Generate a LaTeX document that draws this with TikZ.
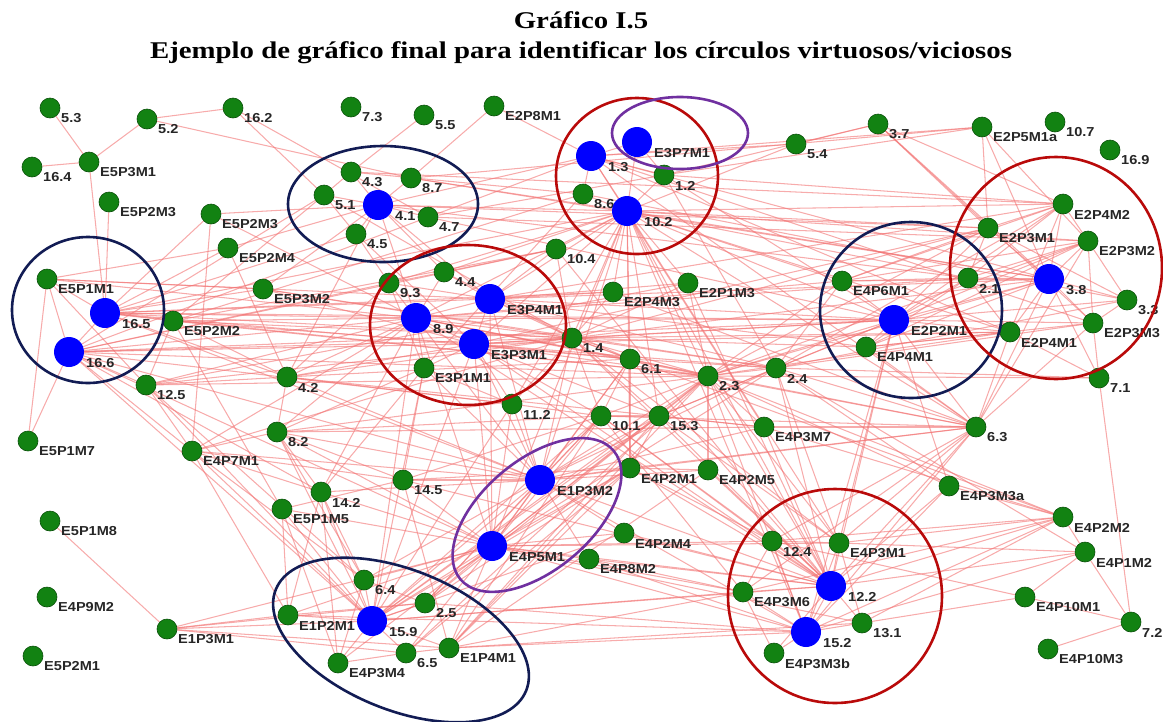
\documentclass[tikz,border=0pt]{standalone}
\usepackage{fontspec}
\setmainfont{Liberation Serif}
\newfontfamily\titfont[FakeStretch=1.2]{Liberation Serif}
\newfontfamily\labfont[FakeStretch=1.12]{Liberation Sans}
\pgfdeclarelayer{bg}
\pgfsetlayers{bg,main}
\definecolor{gfill}{RGB}{18,130,18}
\definecolor{gdraw}{RGB}{10,80,10}
\definecolor{bfill}{RGB}{0,0,255}
\definecolor{navy}{RGB}{18,28,84}
\definecolor{dred}{RGB}{185,10,10}
\definecolor{purp}{RGB}{112,48,160}
\definecolor{edgec}{RGB}{242,115,115}
\tikzset{
  gnode/.style={circle, fill=gfill, draw=gdraw, line width=0.6pt, minimum size=20pt, inner sep=0pt},
  bnode/.style={circle, fill=bfill, minimum size=30pt, inner sep=0pt},
  lab/.style={anchor=west, inner sep=0pt, font=\labfont\bfseries\fontsize{13}{13}\selectfont, text=black!85},
  edge/.style={draw=edgec, opacity=0.6, line width=1.05pt},
  ring/.style={line width=2.6pt},
  ttl/.style={font=\titfont\bfseries\fontsize{24}{26}\selectfont, inner sep=0pt}
}
\newcommand\G[4]{\node[gnode] (#1) at (#2,#3) {}; \node[lab] (#1-l) at (#2+11,#3+10.5) {#4};}
\newcommand\B[4]{\node[bnode] (#1) at (#2,#3) {}; \node[lab] (#1-l) at (#2+17,#3+11) {#4};}
\newcommand\fan[2]{\foreach \t in {#2} {\draw[edge] (#1) -- (\t);}}
\begin{document}
\begin{tikzpicture}[x=1pt,y=-1pt]
\useasboundingbox (0,0) rectangle (1163,721);
\node[ttl] (t1) at (581,20) {Gráfico I.5};
\node[ttl] (t2) at (581,53) {Ejemplo de gráfico final para identificar los círculos virtuosos/viciosos};
% nodes
\G{n5-3}{50}{108}{5.3}
\G{n5-2}{147}{119}{5.2}
\G{n16-2}{233}{108}{16.2}
\G{n16-4}{32}{167}{16.4}
\G{E5P3M1}{89}{162}{E5P3M1}
\G{E5P2M3}{109}{202}{E5P2M3}
\G{E5P2M3b}{211}{214}{E5P2M3}
\G{E5P2M4}{228}{248}{E5P2M4}
\G{E5P1M1}{47}{279}{E5P1M1}
\G{E5P3M2}{263}{289}{E5P3M2}
\G{n7-3}{351}{107}{7.3}
\G{n5-5}{424}{115}{5.5}
\G{E2P8M1}{494}{106}{E2P8M1}
\G{n4-3}{351}{172}{4.3}
\G{n8-7}{411}{178}{8.7}
\G{n5-1}{324}{195}{5.1}
\B{n4-1}{378}{205}{4.1}
\G{n4-7}{428}{217}{4.7}
\G{n4-5}{356}{234}{4.5}
\G{n10-4}{556}{249}{10.4}
\G{n4-4}{444}{272}{4.4}
\G{n9-3}{389}{283}{9.3}
\B{E3P4M1}{490}{299}{E3P4M1}
\B{n1-3}{591}{156}{1.3}
\B{E3P7M1}{637}{142}{E3P7M1}
\G{n1-2}{664}{175}{1.2}
\G{n8-6}{583}{194}{8.6}
\B{n10-2}{627}{211}{10.2}
\G{n5-4}{796}{144}{5.4}
\G{E2P4M3}{613}{292}{E2P4M3}
\G{E2P1M3}{688}{283}{E2P1M3}
\G{E4P6M1}{842}{281}{E4P6M1}
\G{n3-7}{878}{124}{3.7}
\G{E2P5M1a}{982}{127}{E2P5M1a}
\G{n10-7}{1055}{122}{10.7}
\G{n16-9}{1110}{150}{16.9}
\G{E2P4M2}{1063}{204}{E2P4M2}
\G{E2P3M1}{988}{228}{E2P3M1}
\G{E2P3M2}{1088}{241}{E2P3M2}
\G{n2-1}{968}{278}{2.1}
\B{n3-8}{1049}{279}{3.8}
\G{n3-3}{1127}{300}{3.3}
\B{n16-5}{105}{313}{16.5}
\G{E5P2M2}{173}{321}{E5P2M2}
\B{n16-6}{69}{352}{16.6}
\G{n12-5}{146}{385}{12.5}
\G{n4-2}{287}{377}{4.2}
\G{E5P1M7}{28}{441}{E5P1M7}
\G{E4P7M1}{192}{451}{E4P7M1}
\G{n8-2}{277}{432}{8.2}
\G{E5P1M5}{282}{509}{E5P1M5}
\B{n8-9}{416}{318}{8.9}
\B{E3P3M1}{474}{344}{E3P3M1}
\G{E3P1M1}{424}{368}{E3P1M1}
\G{n1-4}{572}{338}{1.4}
\G{n11-2}{512}{404}{11.2}
\G{n14-5}{403}{480}{14.5}
\G{n14-2}{321}{492}{14.2}
\B{E1P3M2}{540}{480}{E1P3M2}
\G{n6-1}{630}{359}{6.1}
\G{n2-3}{708}{376}{2.3}
\G{n2-4}{776}{368}{2.4}
\G{n10-1}{601}{416}{10.1}
\G{n15-3}{659}{416}{15.3}
\G{E4P3M7}{764}{427}{E4P3M7}
\G{E4P2M1}{630}{468}{E4P2M1}
\G{E4P2M5}{708}{470}{E4P2M5}
\G{E4P4M1}{866}{347}{E4P4M1}
\B{E2P2M1}{894}{320}{E2P2M1}
\G{E2P4M1}{1010}{332}{E2P4M1}
\G{E2P3M3}{1093}{323}{E2P3M3}
\G{n7-1}{1099}{378}{7.1}
\G{n6-3}{976}{427}{6.3}
\G{E4P3M3a}{949}{486}{E4P3M3a}
\G{E4P2M2}{1063}{517}{E4P2M2}
\G{E5P1M8}{50}{521}{E5P1M8}
\G{E4P9M2}{47}{597}{E4P9M2}
\G{E5P2M1}{33}{656}{E5P2M1}
\G{E1P3M1}{167}{629}{E1P3M1}
\G{E1P2M1}{288}{615}{E1P2M1}
\B{E4P5M1}{492}{546}{E4P5M1}
\G{n6-4}{364}{580}{6.4}
\G{n2-5}{425}{603}{2.5}
\B{n15-9}{372}{621}{15.9}
\G{E4P3M4}{338}{663}{E4P3M4}
\G{n6-5}{406}{653}{6.5}
\G{E1P4M1}{449}{648}{E1P4M1}
\G{E4P2M4}{624}{533}{E4P2M4}
\G{E4P8M2}{589}{559}{E4P8M2}
\G{n12-4}{772}{541}{12.4}
\G{E4P3M1}{839}{543}{E4P3M1}
\G{E4P3M6}{743}{592}{E4P3M6}
\B{n12-2}{831}{586}{12.2}
\B{n15-2}{806}{632}{15.2}
\G{n13-1}{862}{623}{13.1}
\G{E4P3M3b}{774}{653}{E4P3M3b}
\G{E4P1M2}{1085}{552}{E4P1M2}
\G{E4P10M1}{1025}{597}{E4P10M1}
\G{n7-2}{1131}{622}{7.2}
\G{E4P10M3}{1048}{649}{E4P10M3}
% edges
\begin{pgfonlayer}{bg}
\fan{n5-3}{E5P3M1}
\fan{E5P3M1}{n5-2,n16-4,n16-5}
\fan{n5-2}{n16-2,n8-7}
\fan{n16-2}{n5-1,n4-7}
\fan{n5-5}{n4-3}
\fan{E2P8M1}{n8-7,n1-3}
\fan{E5P2M3}{n16-5}
\fan{E5P2M3b}{n16-5,n4-1,E4P7M1,n8-9}
\fan{E5P2M4}{E5P1M1,n4-1,n16-5,n4-2}
\fan{E5P1M1}{E5P3M2,n16-6,n16-5,n12-5,E5P1M7,n8-9,E3P4M1}
\fan{E5P1M7}{n16-6}
\fan{E5P1M8}{E1P3M1}
\fan{E5P3M2}{n1-4,E3P3M1,n2-4,n4-1}
\fan{n4-1}{n4-3,n5-1,n8-7,n4-7,n4-5,n4-4,n10-2,n1-3,E2P3M1,n2-1,E3P4M1,n4-2,n8-9}
\fan{n4-3}{n5-1,E2P4M2,n8-6}
\fan{n5-1}{n4-5,n1-4,n16-6,E5P2M2}
\fan{n8-7}{n3-8,E2P5M1a,n10-2}
\fan{n4-7}{E2P2M1,n1-2,E2P3M2}
\fan{n4-5}{E3P3M1,n16-5,n9-3}
\fan{n1-3}{n10-2,n8-6,n1-2,E3P7M1,n5-4,n3-8,E2P3M3,E4P3M7,n16-6,E2P4M1,n6-3}
\fan{E3P7M1}{n1-2,n10-2}
\fan{n1-2}{n10-2,n3-7,E2P4M2,n2-4,E2P5M1a,E2P2M1}
\fan{n8-6}{n10-2,n3-3,E3P1M1,E5P2M2}
\fan{n10-2}{n10-4,E2P4M3,n1-4,E3P4M1,n9-3,n8-9,E3P3M1,n6-1,n2-3,n15-3,E4P2M1,E1P3M2,E4P5M1,n12-2,n15-2,E2P3M1,E2P4M2,n3-8,E2P3M2,E2P4M1,E2P2M1,E4P6M1,n6-3,n5-4,n16-5,n11-2,E2P1M3,n4-4,E4P3M1,n2-1}
\fan{n5-4}{n3-7}
\fan{n3-8}{E2P3M1,E2P4M2,E2P3M2,n2-1,E2P4M1,E2P3M3,n3-3,n3-7,E2P5M1a,E4P6M1,E4P4M1,n6-3,n2-3,n1-4}
\fan{E2P4M2}{E2P3M2,E2P3M1,E2P4M1,n2-1,n3-7,E4P6M1,n2-4}
\fan{E2P3M2}{E2P3M3,n3-3,n2-1,E2P5M1a,E4P4M1,n6-3}
\fan{E2P3M1}{n2-1,E2P5M1a,E4P6M1,n3-3}
\fan{E2P3M3}{n3-3,n3-7,n7-1,E4P4M1,n6-3,n2-4}
\fan{n3-7}{E2P3M1}
\fan{E2P5M1a}{n1-3}
\fan{E2P2M1}{E4P6M1,E4P4M1,n2-1,n3-8,E2P3M1,E2P4M1,E2P3M3,E2P3M2,E2P4M2,n6-3,n2-4,n2-3,n1-4,E3P3M1,E3P4M1,n8-9,n16-5,n12-2,n15-2,E4P3M1,n3-3,E4P3M3a,n15-3}
\fan{E4P6M1}{n2-1,n2-3,E2P3M2}
\fan{E4P4M1}{n2-1,E2P4M1,n6-3}
\fan{E2P4M1}{n2-1,n6-3,n7-1,n2-3,n1-4}
\fan{n7-1}{n7-2,n2-4,n3-8}
\fan{n6-3}{n12-2,n15-2,E4P3M1,n2-3,E4P3M7,n10-1,E4P2M1,E1P3M2,n2-4,n8-9,E4P3M6,n12-4}
\fan{E4P3M3a}{E4P2M2,n12-2,n2-3,n15-2}
\fan{E4P2M2}{n12-2,E4P3M1,n15-2,n13-1,E4P3M6,n2-3,E4P1M2,n1-4,n12-4}
\fan{E4P1M2}{n12-2,E4P3M1,E4P10M1,n7-2,n2-4,n15-2}
\fan{E4P10M1}{n13-1,n7-2,n12-4}
\fan{n7-2}{E4P10M3}
\fan{n12-2}{n15-2,n12-4,E4P3M1,E4P3M6,n13-1,E4P3M3b,E1P3M2,E4P5M1,n15-9,n2-3,n15-3,n10-1,n14-5,E4P2M1,E4P2M5,E3P3M1,n8-9,n1-4,n6-1,E4P3M7,n2-4,E4P2M4,E4P8M2}
\fan{n15-2}{E4P3M6,E4P3M3b,n13-1,n12-4,E4P3M1,E4P5M1,E1P4M1,n2-5,E1P2M1,n2-3,E4P8M2,E1P3M2}
\fan{E4P3M6}{n12-4,E4P3M3b,E4P8M2,n15-9,E4P5M1,n10-1}
\fan{E4P3M1}{n12-4,n13-1,E4P5M1,n2-3,n15-3}
\fan{n12-4}{E4P5M1,n10-1,E4P2M1}
\fan{n13-1}{E4P5M1,E1P4M1}
\fan{E1P3M2}{E4P5M1,n14-5,n14-2,n11-2,n10-1,E4P2M1,E4P2M5,n15-3,n2-3,E3P3M1,n8-9,E3P1M1,n15-9,n6-4,n2-5,E4P2M4,E4P8M2,E4P3M7,n8-2,n4-2,E4P7M1,n16-6,n16-5,n2-4,n6-1,E3P4M1,n1-4}
\fan{E4P5M1}{n15-9,n6-4,n2-5,E1P4M1,n6-5,E1P2M1,E4P3M4,E4P8M2,E4P2M4,E4P2M1,n10-1,n15-3,n2-3,n2-4,n14-5,E5P1M5,n6-1,n11-2,E3P3M1,n8-9,E3P4M1,n14-2,n8-2,n16-6}
\fan{n15-9}{n6-4,n2-5,E1P2M1,E4P3M4,n6-5,E1P4M1,n14-2,E5P1M5,n8-2,E4P7M1,n16-6,n11-2,E3P1M1,E3P3M1,E4P2M4,n10-1,n15-3,E4P2M1,n2-3,n8-9}
\fan{E1P3M1}{E1P2M1,n15-9,n6-5,E1P4M1,n2-5,E4P5M1}
\fan{E4P3M4}{n6-4,n14-2,E5P1M5,n6-5}
\fan{E1P2M1}{E5P1M5,n14-2,E4P7M1,n2-5}
\fan{E1P4M1}{n14-5,E4P2M1,n15-3,n2-3,E4P3M6,n6-5,n10-1,E4P2M5}
\fan{n6-4}{E4P7M1,n12-5,n14-2,n8-2,n2-5}
\fan{n2-5}{n10-1,n15-3,E4P2M1}
\fan{n6-5}{n2-3,E4P2M1}
\fan{n8-9}{E3P4M1,E3P3M1,n9-3,E3P1M1,n4-4,n4-2,n8-2,E5P2M2,n16-5,n16-6,n12-5,n1-4,n2-3,E4P7M1,E4P6M1,n2-1,n6-1,n14-2}
\fan{E3P3M1}{E3P4M1,E3P1M1,n16-6,n1-4,n6-1,n2-3,n15-3,n10-1,n11-2,E2P3M1,E2P4M1,E5P2M2,n4-2,n2-4}
\fan{E3P4M1}{n4-4,n9-3,n16-5,n1-4,n2-4,E2P1M3,E2P4M3,n10-4,n3-8,E4P4M1,E2P4M2,n6-1}
\fan{E3P1M1}{n14-5,n14-2,n9-3,n8-2,n11-2}
\fan{n9-3}{n16-6,n4-4,n4-2}
\fan{n4-4}{n1-4,n10-4}
\fan{n1-4}{n6-1,n2-3,n10-4,E2P4M3,n11-2,n10-1,n15-3,E2P1M3,n2-4,E4P4M1,E2P3M1,n16-5,n16-6,E5P2M2,n4-2,E4P7M1,E4P3M1,n12-5}
\fan{n2-3}{n6-1,n2-4,n15-3,E4P3M7,E2P3M2,E2P3M1,n7-1,n16-6,E5P2M2,n12-5,E2P1M3,n10-1,E4P2M5,n8-2}
\fan{n2-4}{E4P6M1,n3-3,E4P3M3a,E4P3M1,n6-1,n15-3}
\fan{E4P3M7}{n8-2,n4-2,n15-3,E4P2M2}
\fan{n6-1}{n10-1,n16-5,n4-2,E4P2M1}
\fan{n10-1}{n15-3,n14-5,n8-2}
\fan{E4P2M1}{n15-3,E4P2M5,n14-5}
\fan{n11-2}{n4-2,n10-1,n16-6}
\fan{E2P4M3}{n16-5,n6-3}
\fan{E2P1M3}{n12-5,n12-2}
\fan{n10-4}{E5P2M2,n12-2,n16-6}
\fan{E5P2M2}{n16-5,n12-5,E5P1M5,n4-2}
\fan{n16-5}{n16-6,n2-3,n4-2,E5P3M2}
\fan{n16-6}{n12-5,E4P7M1,n14-2,E2P2M1}
\fan{n12-5}{E4P7M1,n4-2,n15-9}
\fan{E4P7M1}{n8-2,n14-2,n14-5}
\fan{n8-2}{n14-2,n4-2}
\fan{n14-5}{n8-2,E5P1M5}
\end{pgfonlayer}
% circles
\draw[ring,navy] (383,204) ellipse [x radius=95pt, y radius=58pt];
\draw[ring,navy] (88,310) ellipse [x radius=76pt, y radius=73pt];
\draw[ring,dred] (468,325) ellipse [x radius=98pt, y radius=80pt];
\draw[ring,dred] (637,176) ellipse [x radius=81pt, y radius=78pt];
\draw[ring,purp] (680,133) ellipse [x radius=68pt, y radius=36pt];
\draw[ring,navy] (911,310) ellipse [x radius=91pt, y radius=88pt];
\draw[ring,dred] (1056,268) ellipse [x radius=106pt, y radius=111pt];
\draw[ring,purp,rotate around={40:(537,515)}] (537,515) ellipse [x radius=100pt, y radius=55pt];
\draw[ring,navy,rotate around={-22:(401,640)}] (401,640) ellipse [x radius=135pt, y radius=70pt];
\draw[ring,dred] (835,596) ellipse [x radius=107pt, y radius=107pt];
\end{tikzpicture}
\end{document}
